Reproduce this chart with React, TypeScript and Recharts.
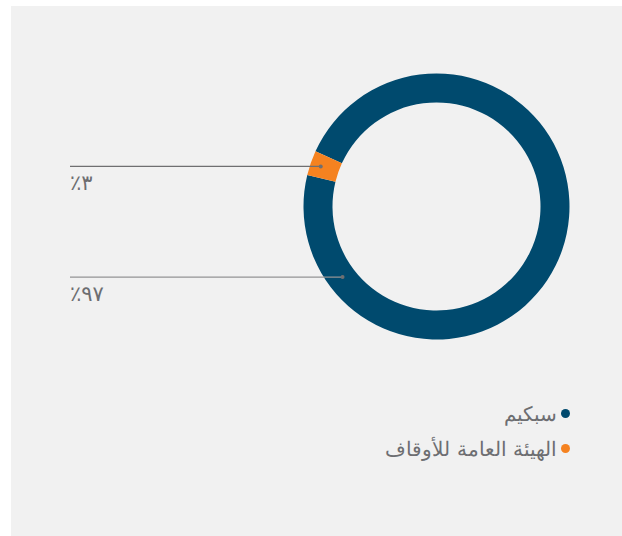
import { PieChart, Pie, Cell, Legend } from 'recharts';

// حصص الملكية
const owners = ['سبكيم', 'الهيئة العامة للأوقاف'];
const shares = [97, 3];
const colors = ['#004a6e', '#f58220'];

const data = owners.map((name, i) => ({ name, value: shares[i] }));

// زاوية نقطة خط التوضيح لكل شريحة (null = منتصف الشريحة)
const labelAngles: (number | null)[] = [216.9, null];

const RAD = Math.PI / 180;
const toArabicDigits = (n: number) =>
  String(n).replace(/[0-9]/g, (d) => '٠١٢٣٤٥٦٧٨٩'[Number(d)]);

// eslint-disable-next-line @typescript-eslint/no-explicit-any
function LeaderLabel(props: any) {
  const { cx, cy, midAngle, innerRadius, outerRadius, index, value } = props;
  const angle = labelAngles[index] ?? midAngle;
  const r = (innerRadius + outerRadius) / 2 + (index === 1 ? 4 : -1);
  const px = cx + r * Math.cos(-angle * RAD);
  const py = cy + r * Math.sin(-angle * RAD);
  const lineColor = index === 1 ? '#6f6f71' : '#939395';
  return (
    <g>
      <line x1={70} y1={py} x2={px} y2={py} stroke={lineColor} strokeWidth={1.3} />
      <circle cx={px} cy={py} r={2} fill="#6f6f71" />
      <text
        x={70}
        y={py + 24}
        fill="#6d6e71"
        fontSize={21}
        fontFamily="'DejaVu Sans', sans-serif"
        textAnchor="start"
      >
        {'٪' + toArabicDigits(value)}
      </text>
    </g>
  );
}

// الوسيلة الإيضاحية بنفس ترتيب البيانات
function LegendList() {
  return (
    <div dir="rtl" style={{ fontFamily: "'DejaVu Sans', sans-serif" }}>
      {owners.map((name, i) => (
        <div
          key={name}
          style={{ display: 'flex', alignItems: 'center', height: 35, color: '#6d6e71', fontSize: 20, fontWeight: 300 }}
        >
          <span
            style={{
              width: 9,
              height: 9,
              borderRadius: '50%',
              background: colors[i],
              marginLeft: 4,
              flexShrink: 0,
            }}
          />
          <span>{name}</span>
        </div>
      ))}
    </div>
  );
}

export default function App() {
  return (
    <div style={{ position: 'absolute', left: 0, top: 0, width: 622, height: 536, background: '#fff' }}>
      <div style={{ position: 'absolute', left: 11, top: 6, right: 0, bottom: 0, background: '#f1f1f1' }} />
      <div style={{ position: 'absolute', left: 0, top: 0 }}>
        <PieChart width={622} height={536} margin={{ top: 0, right: 0, bottom: 0, left: 0 }}>
          <Pie
            data={data}
            dataKey="value"
            nameKey="name"
            cx={436.5}
            cy={206.5}
            innerRadius={104}
            outerRadius={133}
            startAngle={166.3}
            endAngle={526.3}
            stroke="none"
            label={LeaderLabel}
            labelLine={false}
            isAnimationActive={false}
          >
            {data.map((_, i) => (
              <Cell key={i} fill={colors[i]} />
            ))}
          </Pie>
          <Legend
            layout="vertical"
            align="right"
            verticalAlign="top"
            content={LegendList}
            wrapperStyle={{ top: 396, right: 52, left: 'auto', width: 'auto' }}
          />
        </PieChart>
      </div>
    </div>
  );
}
